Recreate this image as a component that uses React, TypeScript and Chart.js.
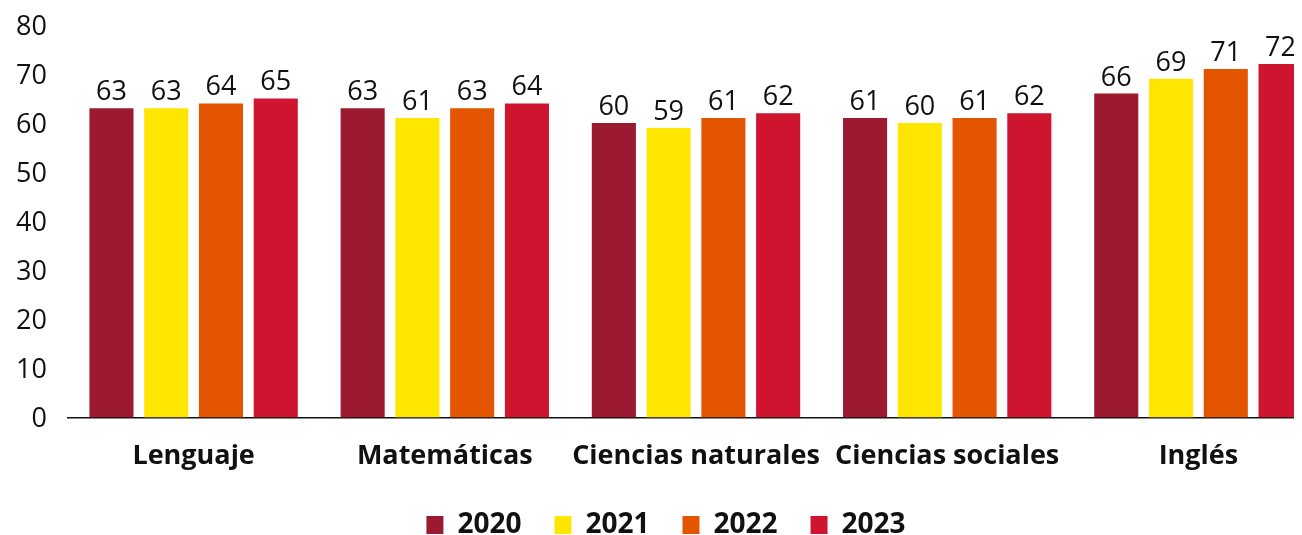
import React, { useEffect, useRef } from "react";
import { Chart, registerables } from "chart.js";

Chart.register(...registerables);

const categories = ["Lenguaje", "Matemáticas", "Ciencias naturales", "Ciencias sociales", "Inglés"];
const years = ["2020", "2021", "2022", "2023"];
const values2020 = [63, 63, 60, 61, 66];
const values2021 = [63, 61, 59, 60, 69];
const values2022 = [64, 63, 61, 61, 71];
const values2023 = [65, 64, 62, 62, 72];
const colors = ["#9B1A31", "#FFE600", "#E35500", "#CF1430"];
const yTicks = [0, 10, 20, 30, 40, 50, 60, 70, 80];

const FONT = "'Open Sans', 'Noto Sans', sans-serif";

const valueLabels = {
  id: "valueLabels",
  afterDatasetsDraw(chart: any) {
    const ctx = chart.ctx;
    ctx.save();
    ctx.font = `normal 27px ${FONT}`;
    ctx.fillStyle = "#111";
    ctx.textAlign = "center";
    ctx.textBaseline = "alphabetic";
    chart.data.datasets.forEach((ds: any, i: number) => {
      const meta = chart.getDatasetMeta(i);
      meta.data.forEach((el: any, j: number) => {
        ctx.fillText(String(ds.data[j]), el.x, el.y - 8);
      });
    });
    ctx.restore();
  },
};

export default function App() {
  const ref = useRef<HTMLCanvasElement | null>(null);
  useEffect(() => {
    if (!ref.current) return;
    const series = [values2020, values2021, values2022, values2023];
    const chart = new Chart(ref.current, {
      type: "bar",
      data: {
        labels: categories,
        datasets: years.map((y, i) => ({
          label: y,
          data: series[i],
          backgroundColor: colors[i],
          borderWidth: 0,
          categoryPercentage: 0.872,
          barPercentage: 0.805,
        })),
      },
      options: {
        responsive: true,
        maintainAspectRatio: false,
        animation: false,
        layout: { padding: { left: 0, right: 14, top: 7, bottom: -14 } },
        plugins: {
          tooltip: { enabled: false },
          legend: {
            position: "bottom",
            labels: {
              boxWidth: 17,
              boxHeight: 18,
              padding: 33,
              color: "#111",
              font: { family: FONT, size: 28, weight: "bold" },
            },
          },
        },
        scales: {
          x: {
            afterFit(scale: any) {
              scale.height -= 18;
            },
            grid: { display: false, drawTicks: false },
            border: { display: true, color: "#111", width: 1.5 },
            ticks: {
              color: "#111",
              padding: 23,
              autoSkip: false,
              maxRotation: 0,
              minRotation: 0,
              font: { family: FONT, size: 27, weight: "bold" },
            },
          },
          y: {
            min: 0,
            max: 82,
            afterFit(scale: any) {
              scale.width = 60;
              scale.paddingTop = 0;
              scale.paddingBottom = 0;
            },
            afterBuildTicks(scale: any) {
              scale.ticks = yTicks.map((v) => ({ value: v }));
            },
            grid: { display: false, drawTicks: false },
            border: { display: false },
            ticks: {
              color: "#111",
              padding: 21,
              labelOffset: 2,
              font: { family: FONT, size: 27 },
            },
          },
        },
      },
      plugins: [valueLabels],
    });
    return () => chart.destroy();
  }, []);
  return (
    <div style={{ width: 1294, height: 527, overflow: "hidden" }}>
      <div style={{ width: 1330, height: 527, position: "relative" }}>
        <canvas ref={ref} />
      </div>
    </div>
  );
}
